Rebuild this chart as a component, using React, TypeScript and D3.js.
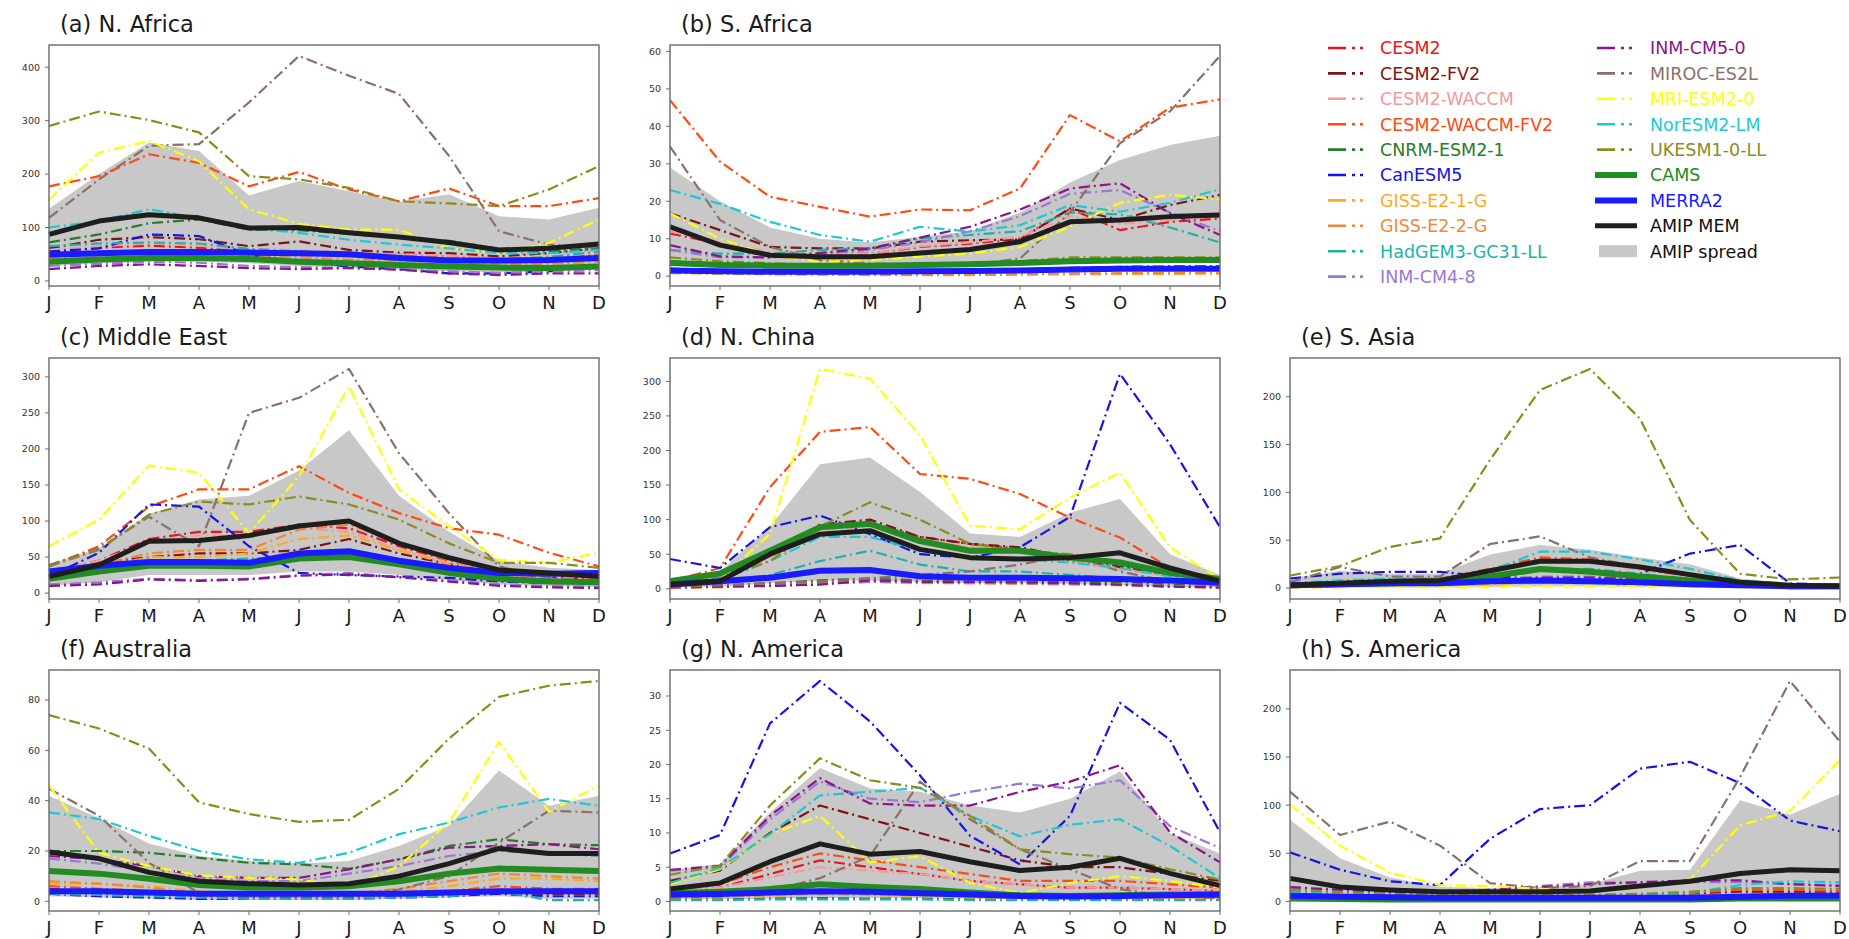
import React from 'react';
import * as d3 from 'd3';

const months = ['J', 'F', 'M', 'A', 'M', 'J', 'J', 'A', 'S', 'O', 'N', 'D'];

const seriesNames = [
  'CESM2', 'CESM2-FV2', 'CESM2-WACCM', 'CESM2-WACCM-FV2', 'CNRM-ESM2-1', 'CanESM5',
  'GISS-E2-1-G', 'GISS-E2-2-G', 'HadGEM3-GC31-LL', 'INM-CM4-8', 'INM-CM5-0', 'MIROC-ES2L',
  'MRI-ESM2-0', 'NorESM2-LM', 'UKESM1-0-LL', 'CAMS', 'MERRA2', 'AMIP MEM',
];
const spreadName = 'AMIP spread';

const seriesColors = [
  '#e8141e', '#7d1416', '#f49a9a', '#ff4a14', '#2a7a2a', '#1414e6',
  '#ffaa1e', '#f0883c', '#20b2aa', '#9a78d2', '#8a148a', '#8c7068',
  '#ffff00', '#1ec8d2', '#8c8c1e', '#228b22', '#1a1aff', '#1e1e1e',
];

// rows follow seriesNames order; spread = [low, high]
const nAfrica = [
  [55, 62, 66, 62, 55, 56, 50, 50, 46, 40, 42, 50],
  [61, 77, 82, 78, 65, 74, 58, 53, 52, 46, 52, 61],
  [58, 65, 70, 66, 58, 58, 52, 50, 47, 42, 45, 52],
  [177, 196, 237, 221, 177, 204, 171, 149, 173, 140, 140, 155],
  [72, 87, 108, 115, 96, 95, 88, 80, 75, 60, 55, 62],
  [55, 61, 87, 84, 49, 36, 27, 22, 14, 14, 18, 27],
  [45, 52, 58, 56, 50, 48, 45, 42, 40, 35, 35, 40],
  [40, 48, 55, 53, 46, 44, 40, 38, 36, 32, 32, 36],
  [65, 70, 72, 70, 60, 55, 48, 45, 42, 40, 45, 55],
  [28, 32, 36, 34, 28, 26, 24, 22, 18, 15, 18, 20],
  [22, 28, 31, 28, 24, 22, 24, 21, 14, 11, 14, 14],
  [118, 190, 253, 256, 334, 421, 384, 350, 234, 93, 68, 62],
  [152, 240, 262, 224, 134, 107, 96, 96, 61, 52, 71, 115],
  [100, 112, 134, 118, 99, 90, 77, 68, 61, 52, 52, 58],
  [290, 317, 301, 278, 196, 190, 174, 149, 145, 140, 171, 215],
  [36, 40, 43, 43, 41, 36, 33, 30, 27, 25, 24, 27],
  [49, 52, 54, 54, 53, 52, 50, 43, 38, 38, 39, 43],
  [87, 112, 124, 118, 99, 100, 90, 82, 72, 58, 61, 69],
];
const nAfricaSpread = [
  [28, 33, 36, 36, 33, 28, 24, 21, 18, 16, 18, 22],
  [135, 200, 259, 243, 160, 187, 168, 148, 162, 121, 115, 137],
];

const sAfrica = [
  [11.4, 8.7, 6, 6, 6, 7.8, 8.7, 10, 18, 12.3, 14.5, 15.4],
  [16.8, 12.3, 7.8, 7.4, 7.4, 9.2, 9.6, 9.8, 18.1, 15, 19, 21.7],
  [12, 9, 6.5, 6, 6, 8, 9, 10.5, 16, 14, 15, 16],
  [47, 30.6, 21.2, 18.5, 15.9, 17.8, 17.6, 23.4, 43, 36, 45, 47.2],
  [4, 3.5, 3.2, 3, 3, 3.2, 3.5, 3.8, 4, 4.2, 4.3, 4.3],
  [2, 1.6, 1.4, 1.3, 1.3, 1.4, 1.5, 1.8, 2.2, 2.5, 2.6, 2.6],
  [0.8, 0.6, 0.5, 0.4, 0.3, 0.3, 0.3, 0.4, 0.5, 0.6, 0.6, 0.7],
  [1, 0.8, 0.6, 0.5, 0.4, 0.4, 0.4, 0.5, 0.7, 0.8, 0.8, 0.9],
  [7, 6, 6, 7, 7.5, 10, 11, 12, 17, 16.5, 13, 9],
  [7, 5, 5, 6, 7, 9, 12, 16, 22, 23, 17, 12],
  [8.3, 5.3, 5, 6.2, 7.4, 10.3, 13.2, 17.8, 23.4, 24.8, 16.8, 11],
  [34.6, 15, 7.8, 4.3, 3.4, 3, 3, 4.7, 17, 35.5, 44, 58.8],
  [16.8, 10, 5.6, 3.8, 4.3, 5.2, 6, 7.8, 13.2, 19.6, 21.7, 20.5],
  [23, 19.3, 14.5, 11, 9.2, 13.2, 11.9, 13.6, 19, 17.2, 19.6, 23.2],
  [5, 4, 3.5, 3, 3, 3, 3.5, 4, 5, 5, 5, 5],
  [3.5, 3, 2.8, 2.8, 2.8, 3, 3.2, 3.5, 4, 4.2, 4.3, 4.3],
  [1.5, 1.3, 1.2, 1.2, 1.2, 1.3, 1.4, 1.5, 1.8, 2, 2, 2],
  [13.2, 8.3, 5.6, 5.2, 5.2, 6.2, 7.1, 9.2, 14.5, 15, 15.9, 16.3],
];
const sAfricaSpread = [
  [3.5, 3, 2.8, 2.6, 2.6, 2.8, 3, 3.2, 3.5, 3.6, 3.6, 3.6],
  [29, 20, 13, 10, 9, 10.5, 12, 17, 25, 31, 35, 37.5],
];

const middleEast = [
  [30, 45, 75, 85, 85, 95, 90, 65, 45, 30, 25, 20],
  [28, 42, 50, 55, 55, 60, 75, 55, 40, 28, 22, 18],
  [30, 45, 70, 80, 80, 90, 85, 60, 42, 28, 22, 18],
  [37, 65, 120, 144, 144, 176, 139, 111, 90, 81, 56, 37],
  [20, 28, 40, 42, 40, 48, 50, 42, 30, 22, 18, 15],
  [23, 56, 123, 120, 65, 28, 25, 23, 21, 16, 14, 14],
  [25, 35, 50, 50, 55, 75, 80, 60, 40, 25, 18, 15],
  [28, 40, 55, 60, 60, 88, 95, 70, 45, 28, 20, 15],
  [25, 35, 45, 45, 48, 50, 55, 45, 32, 22, 18, 18],
  [12, 15, 20, 18, 20, 25, 28, 22, 18, 12, 10, 9],
  [10, 12, 19, 17, 19, 24, 26, 22, 16, 10, 8, 7],
  [39, 62, 106, 65, 250, 271, 311, 194, 111, 37, 21, 16],
  [65, 102, 177, 167, 83, 162, 287, 144, 93, 46, 42, 56],
  [20, 30, 42, 44, 44, 50, 52, 40, 30, 22, 18, 16],
  [37, 60, 109, 127, 123, 134, 123, 102, 69, 42, 42, 35],
  [20, 30, 38, 38, 37, 48, 50, 40, 28, 20, 16, 15],
  [30, 38, 43, 43, 42, 55, 58, 45, 35, 28, 27, 28],
  [23, 39, 72, 73, 80, 93, 100, 69, 49, 32, 28, 23],
];
const middleEastSpread = [
  [10, 15, 25, 25, 25, 30, 30, 25, 18, 12, 10, 8],
  [40, 62, 110, 130, 135, 170, 226, 135, 85, 45, 35, 32],
];

const nChina = [
  [8, 15, 50, 90, 95, 75, 65, 58, 40, 30, 20, 12],
  [8, 14, 50, 93, 100, 75, 65, 60, 45, 32, 20, 10],
  [7, 12, 45, 85, 90, 70, 60, 55, 40, 28, 18, 10],
  [11, 30, 147, 227, 234, 166, 159, 137, 103, 74, 30, 11],
  [3, 5, 8, 12, 15, 12, 10, 10, 10, 10, 6, 4],
  [43, 30, 89, 106, 79, 50, 45, 60, 104, 311, 209, 89],
  [1, 2, 5, 8, 10, 8, 8, 7, 6, 5, 3, 1],
  [2, 3, 6, 10, 12, 10, 9, 8, 7, 6, 4, 2],
  [5, 10, 20, 40, 55, 35, 25, 25, 20, 15, 10, 5],
  [2, 3, 5, 7, 10, 9, 8, 8, 7, 6, 3, 2],
  [2, 3, 4, 6, 12, 10, 10, 9, 8, 6, 3, 2],
  [3, 5, 8, 10, 15, 20, 25, 35, 50, 25, 10, 5],
  [6, 14, 79, 318, 304, 222, 91, 86, 132, 168, 60, 14],
  [6, 12, 40, 75, 75, 55, 45, 42, 38, 30, 18, 8],
  [8, 15, 40, 90, 125, 100, 65, 55, 50, 40, 25, 12],
  [11, 22, 55, 89, 94, 69, 55, 55, 45, 38, 23, 14],
  [6, 11, 16, 26, 27, 18, 16, 16, 15, 14, 12, 9],
  [6, 11, 50, 79, 84, 57, 45, 43, 45, 52, 30, 11],
];
const nChinaSpread = [
  [2, 3, 8, 12, 12, 10, 8, 8, 7, 5, 3, 2],
  [15, 25, 90, 180, 190, 140, 80, 75, 110, 130, 50, 20],
];

const sAsia = [
  [4, 6, 8, 9, 18, 30, 28, 20, 12, 5, 3, 2],
  [4, 6, 8, 9, 17, 28, 27, 20, 12, 5, 3, 2],
  [4, 5, 7, 8, 16, 27, 26, 19, 11, 5, 3, 2],
  [5, 7, 9, 10, 20, 32, 30, 22, 14, 6, 3, 2],
  [2, 3, 4, 5, 10, 18, 18, 14, 8, 3, 2, 1],
  [10, 15, 17, 17, 12, 10, 8, 15, 36, 45, 5, 3],
  [1, 1, 2, 2, 4, 6, 6, 5, 3, 1, 1, 1],
  [1, 2, 2, 3, 5, 8, 8, 6, 4, 2, 1, 1],
  [3, 5, 6, 7, 12, 20, 20, 15, 9, 4, 2, 2],
  [2, 3, 4, 5, 8, 12, 12, 10, 6, 3, 2, 1],
  [2, 3, 4, 5, 8, 11, 11, 9, 6, 3, 2, 1],
  [6, 22, 12, 12, 46, 54, 32, 22, 15, 5, 3, 2],
  [1, 1, 1, 1, 1, 2, 2, 2, 1, 1, 1, 1],
  [5, 8, 10, 10, 18, 38, 38, 30, 20, 8, 4, 3],
  [13, 23, 43, 52, 134, 207, 229, 177, 71, 15, 9, 11],
  [3, 4, 5, 6, 12, 20, 17, 12, 8, 4, 2, 2],
  [3, 4, 5, 5, 7, 8, 7, 6, 4, 3, 2, 2],
  [3, 5, 7, 8, 18, 28, 28, 22, 14, 6, 3, 2],
];
const sAsiaSpread = [
  [0, 0.5, 0.5, 0.5, 1, 2, 2, 1, 1, 0.5, 0, 0],
  [10, 18, 15, 15, 35, 45, 40, 32, 25, 10, 5, 4],
];

const australia = [
  [5, 4, 3, 2, 2, 2, 2, 2, 3, 4, 3, 3],
  [4, 3.5, 3, 2, 1.5, 1.5, 1.5, 2, 2.5, 3.5, 3, 3],
  [4.5, 4, 3, 2, 2, 2, 2, 2.5, 3, 4, 3.5, 3.5],
  [6, 5, 4, 2, 2, 2, 2, 3, 4, 6, 5, 5],
  [20, 20, 19.3, 17.3, 15.3, 14.7, 12.9, 16.7, 22, 24.7, 22.7, 22.3],
  [3, 2, 1.5, 1, 1, 1, 1, 1.5, 2, 3, 2, 2],
  [7, 7, 6, 4, 3, 3, 3, 4, 6, 9, 9, 8],
  [8, 7, 5.5, 3, 2.5, 2.5, 3, 5, 8, 11, 10, 9],
  [3, 2.5, 2, 1.5, 1, 1, 1, 1.5, 2, 4, 0.5, 0.5],
  [17, 15, 12, 9, 8, 8, 11, 14, 18, 20, 19, 18],
  [18, 16.7, 14, 10, 9.3, 9.3, 12.7, 16.7, 21.3, 22, 22.7, 20.7],
  [44.7, 34, 15.3, 3.3, 2, 2, 2, 4.7, 10, 23.3, 36, 35.3],
  [46, 19.3, 14, 10.3, 9.3, 8.7, 5.3, 14, 31.3, 63.3, 35.6, 46],
  [35.3, 32.7, 26, 20, 16.7, 15.3, 19.3, 26.7, 31.3, 37.3, 40.7, 38],
  [74, 68.7, 60.7, 39.3, 34.7, 31.6, 32.4, 44.7, 64.7, 81.3, 85.7, 87.6],
  [12, 11, 9, 6.5, 5.5, 5.5, 6, 8, 11, 13, 12.5, 12],
  [4, 4, 3.5, 3, 3, 3, 3, 3, 3.5, 4, 4, 4],
  [19.6, 17, 11.5, 8, 7, 6.5, 7, 10, 15, 21, 19, 19],
];
const australiaSpread = [
  [2, 1.5, 1, 0.5, 0.5, 0.5, 0.5, 1, 1.5, 2, 1, 1],
  [42, 33, 23, 18, 16, 15, 16, 22, 30, 52, 38, 42],
];

const nAmerica = [
  [1.5, 2, 4, 6, 5, 4, 3, 2.5, 2, 2, 1.8, 1.5],
  [3, 4.5, 10, 14, 12, 10, 8, 6, 5, 5, 4, 3],
  [1.5, 2, 3.5, 5, 4.5, 4, 3, 2.5, 2, 2, 1.8, 1.5],
  [2, 2.5, 5, 7, 6, 5, 4, 3, 3, 3, 2.5, 2],
  [0.3, 0.3, 0.4, 0.5, 0.4, 0.4, 0.3, 0.3, 0.3, 0.3, 0.3, 0.3],
  [7, 9.7, 26, 32.2, 26.3, 18.4, 9.6, 5.4, 12.5, 29, 23.6, 10.1],
  [0.5, 0.6, 0.8, 1, 0.9, 0.8, 0.6, 0.5, 0.5, 0.5, 0.5, 0.5],
  [0.6, 0.7, 0.9, 1.2, 1, 0.9, 0.7, 0.6, 0.6, 0.6, 0.6, 0.6],
  [0.2, 0.2, 0.3, 0.3, 0.3, 0.3, 0.2, 0.2, 0.2, 0.2, 0.2, 0.2],
  [4.5, 5, 12, 17.5, 15, 14.5, 16, 17.2, 16.5, 17.7, 11, 7.8],
  [4.6, 5.2, 12.5, 18, 14.3, 14, 14, 16, 17.5, 19.9, 10.1, 5.7],
  [0.5, 0.7, 1.5, 3.4, 6.6, 17.5, 12, 7.6, 4.7, 1.8, 0.7, 0.5],
  [2.5, 4.7, 9.8, 12.5, 5.7, 6.6, 2.7, 1.2, 2.7, 3.7, 3, 2],
  [2.7, 4.9, 9.8, 15.5, 16, 16.6, 12.5, 9.5, 11.2, 12, 8.1, 3.4],
  [3.9, 5.2, 14, 20.9, 17.7, 16.6, 12.5, 7.6, 6.9, 6.4, 4.7, 3.2],
  [1.2, 1.4, 1.8, 2.5, 2.1, 1.8, 1.3, 0.9, 0.8, 0.9, 1, 1],
  [1, 1.1, 1.3, 1.5, 1.4, 1.2, 1, 0.8, 0.7, 0.8, 0.9, 1],
  [1.8, 2.7, 5.8, 8.4, 6.9, 7.3, 5.8, 4.5, 5, 6.3, 4.1, 2.3],
];
const nAmericaSpread = [
  [0.3, 0.3, 0.4, 0.5, 0.5, 0.5, 0.4, 0.3, 0.3, 0.3, 0.3, 0.3],
  [4.5, 5.5, 13, 19.5, 16.5, 16, 14, 13, 15, 19, 10, 7],
];

const sAmerica = [
  [8, 7, 6, 5, 5, 5, 5, 6, 7, 9, 9, 9],
  [9, 8, 7, 6, 6, 6, 6, 7, 8, 10, 10, 10],
  [7, 6, 5, 5, 5, 5, 5, 5, 6, 8, 8, 8],
  [10, 9, 8, 7, 6, 6, 6, 7, 9, 12, 12, 11],
  [2, 2, 1.5, 1.5, 1.5, 1.5, 1.5, 1.5, 2, 2, 2, 2],
  [51, 33, 21, 17, 65, 96, 100, 138, 145, 123, 84, 73],
  [5, 4, 3, 3, 3, 3, 3, 3, 4, 6, 6, 6],
  [6, 5, 4, 3, 3, 3, 3, 4, 5, 7, 7, 7],
  [3, 3, 2, 2, 2, 2, 2, 2, 3, 4, 4, 3],
  [14, 11, 10, 10, 12, 16, 20, 20, 20, 20, 18, 17],
  [15, 12, 10, 10, 12, 15, 18, 20, 22, 22, 18, 16],
  [114, 69, 83, 58, 19, 14, 16, 42, 42, 129, 229, 166],
  [101, 58, 30, 17, 16, 13, 10, 14, 23, 79, 94, 147],
  [10, 8, 6, 5, 5, 5, 5, 6, 9, 17, 21, 20],
  [12, 10, 8, 7, 7, 7, 7, 8, 10, 14, 14, 13],
  [3, 2.5, 2, 2, 2, 2, 2, 2, 2, 3, 3, 3],
  [6, 5, 4.5, 4, 4, 4, 4, 4, 4, 5, 6, 6],
  [24, 15, 12, 10, 10, 10, 11, 16, 21, 29, 33, 32],
];
const sAmericaSpread = [
  [2, 2, 2, 2, 2, 2, 2, 2, 2, 3, 3, 3],
  [85, 45, 25, 15, 14, 15, 18, 32, 33, 105, 90, 112],
];

const panelTitles = [
  '(a) N. Africa', '(b) S. Africa', '(c) Middle East', '(d) N. China',
  '(e) S. Asia', '(f) Australia', '(g) N. America', '(h) S. America',
];
const panelData = [nAfrica, sAfrica, middleEast, nChina, sAsia, australia, nAmerica, sAmerica];
const panelSpread = [nAfricaSpread, sAfricaSpread, middleEastSpread, nChinaSpread, sAsiaSpread, australiaSpread, nAmericaSpread, sAmericaSpread];

// layout
const colX = [49, 670, 1290];
const rowY = [45, 358, 670];
const slots = [[0, 0], [1, 0], [0, 1], [1, 1], [2, 1], [0, 2], [1, 2], [2, 2]];
const PW = 550;
const PH = 241;
const FONT = 'DejaVu Sans, sans-serif';
const DASH = '11,4,2,4';
const SPREAD_FILL = '#c8c8c8';

function lineWidth(i: number) {
  if (i === 15 || i === 16) return 6;
  if (i === 17) return 5;
  return 2.2;
}

function Panel({ idx }: { idx: number }) {
  const rows = panelData[idx];
  const spread = panelSpread[idx];
  const [c, r] = slots[idx];
  const left = colX[c];
  const top = rowY[r];

  const all = rows.flat().concat(spread.flat());
  const lo = d3.min(all) as number;
  const hi = d3.max(all) as number;
  const pad = (hi - lo) * 0.05;

  const x = d3.scaleLinear().domain([0, 11]).range([0, PW]);
  const y = d3.scaleLinear().domain([lo - pad, hi + pad]).range([PH, 0]);

  const line = d3.line<number>().x((_, i) => x(i)).y((d) => y(d));
  const area = d3.area<number>()
    .x((_, i) => x(i))
    .y0((_, i) => y(spread[0][i]))
    .y1((d) => y(d));

  return (
    <g transform={`translate(${left},${top})`}>
      <text x={11} y={-13} fontSize={22.5} fontFamily={FONT} fill="#1a1a1a">{panelTitles[idx]}</text>
      <path d={area(spread[1]) || ''} fill={SPREAD_FILL} />
      {rows.map((vals, i) => (
        <path
          key={i}
          d={line(vals) || ''}
          fill="none"
          stroke={seriesColors[i]}
          strokeWidth={lineWidth(i)}
          strokeDasharray={i < 15 ? DASH : undefined}
          strokeLinejoin="round"
        />
      ))}
      <rect x={0} y={0} width={PW} height={PH} fill="none" stroke="#6a6a6a" strokeWidth={1.4} />
      {y.ticks(5).map((t) => (
        <g key={t} transform={`translate(0,${y(t)})`}>
          <line x1={-4} x2={0} stroke="#6a6a6a" strokeWidth={1} />
          <text x={-9} dy="0.35em" textAnchor="end" fontSize={9.5} fontFamily={FONT} fill="#333">{t}</text>
        </g>
      ))}
      {months.map((m, i) => (
        <g key={i} transform={`translate(${x(i)},${PH})`}>
          <line y1={0} y2={4} stroke="#6a6a6a" strokeWidth={1} />
          <text y={23} textAnchor="middle" fontSize={18} fontFamily={FONT} fill="#1a1a1a">{m}</text>
        </g>
      ))}
    </g>
  );
}

function Legend() {
  const rowGap = 25.4;
  const y0 = 48;
  const entries = seriesNames.map((n, i) => ({ name: n, idx: i })).concat([{ name: spreadName, idx: -1 }]);
  const cols = [entries.slice(0, 10), entries.slice(10)];
  const lineX = [1328, 1597];
  const textX = [1380, 1650];
  return (
    <g>
      {cols.map((col, ci) =>
        col.map((e, ri) => {
          const cy = y0 + ri * rowGap;
          const obs = e.idx >= 15;
          return (
            <g key={e.name}>
              {e.idx === -1 ? (
                <rect x={lineX[ci] + 2} y={cy - 6} width={38} height={12} fill={SPREAD_FILL} />
              ) : (
                <line
                  x1={lineX[ci] - (obs ? 2 : 0)}
                  x2={lineX[ci] + (obs ? 40 : 39)}
                  y1={cy}
                  y2={cy}
                  stroke={seriesColors[e.idx]}
                  strokeWidth={obs ? lineWidth(e.idx) : 2.6}
                  strokeDasharray={obs ? undefined : '18,6,3,5,3,20'}
                />
              )}
              <text
                x={textX[ci]}
                y={cy}
                dy="0.36em"
                fontSize={17.5}
                fontFamily={FONT}
                fill={e.idx === -1 || e.idx === 17 ? '#111' : seriesColors[e.idx]}
              >
                {e.name}
              </text>
            </g>
          );
        })
      )}
    </g>
  );
}

export default function App() {
  return (
    <svg
      width={1849}
      height={939}
      style={{ position: 'absolute', left: 0, top: 0, background: '#fff' }}
    >
      <rect width={1849} height={939} fill="#fff" />
      {panelTitles.map((_, i) => (
        <Panel key={i} idx={i} />
      ))}
      <Legend />
    </svg>
  );
}
